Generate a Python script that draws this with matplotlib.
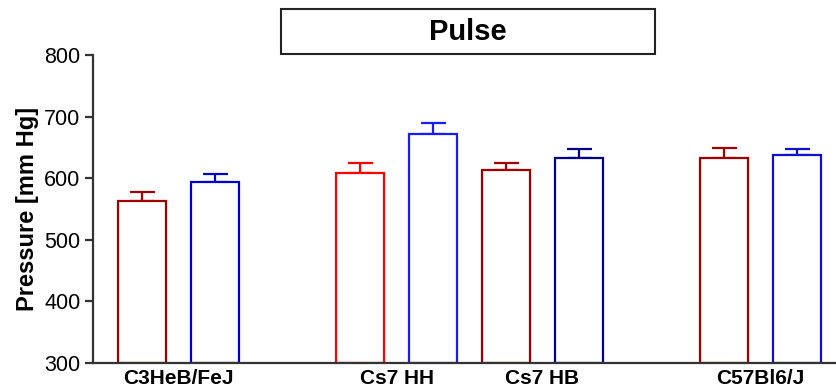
import numpy as np
import matplotlib
matplotlib.use("Agg")
import matplotlib.pyplot as plt
from matplotlib.patches import Rectangle

plt.rcParams['font.family'] = ['Liberation Sans', 'DejaVu Sans']

# data
groups = ["C3HeB/FeJ", "Cs7 HH", "Cs7 HB", "C57Bl6/J"]
bar_pos = [0, 1, 3, 4, 5, 6, 8, 9]
means = [563, 594, 608, 672, 613, 633, 633, 637]
errs = [14, 13, 16, 18, 12, 15, 16, 11]
colors = ["#a00000", "#0000cc", "#ff0000", "#1a1aff",
          "#a00000", "#000088", "#a00000", "#1010d0"]
label_pos = [0.5, 3.5, 5.5, 8.5]

fig = plt.figure(figsize=(8.37, 3.92), dpi=100)
ax = fig.add_axes([0.111, 0.074, 0.889, 0.786])

ax.bar(bar_pos, [m - 300 for m in means], bottom=300, width=0.66,
       facecolor="white", edgecolor=colors, linewidth=1.6, zorder=3)
for x, m, e, c in zip(bar_pos, means, errs, colors):
    ax.errorbar(x, m, yerr=[[0], [e]], fmt="none", ecolor=c,
                elinewidth=1.6, capsize=9, capthick=1.6, zorder=2)

ax.set_ylim(300, 800)
ax.set_xlim(-0.675, 9.55)
ax.set_yticks(np.arange(300, 801, 100))
ax.set_xticks(label_pos)
ax.set_xticklabels(groups, fontweight="bold", fontsize=15)
ax.tick_params(axis="x", length=0, pad=4)
ax.tick_params(axis="y", length=6, width=1.6, color="#333333",
               labelsize=15.5, pad=3)
ax.set_ylabel("Pressure [mm Hg]", fontsize=17, fontweight="bold", labelpad=4)

for s in ["top", "right"]:
    ax.spines[s].set_visible(False)
for s in ["left", "bottom"]:
    ax.spines[s].set_linewidth(1.6)
    ax.spines[s].set_color("#333333")
    ax.spines[s].set_zorder(4)

# boxed title
fig.patches.append(Rectangle((0.3357, 0.8622), 0.4468, 0.1148,
                             transform=fig.transFigure, facecolor="white",
                             edgecolor="#222222", linewidth=1.5))
fig.text(0.559, 0.918, "Pulse", ha="center", va="center",
         fontsize=21, fontweight="bold")

fig.savefig("out.png", dpi=100)
